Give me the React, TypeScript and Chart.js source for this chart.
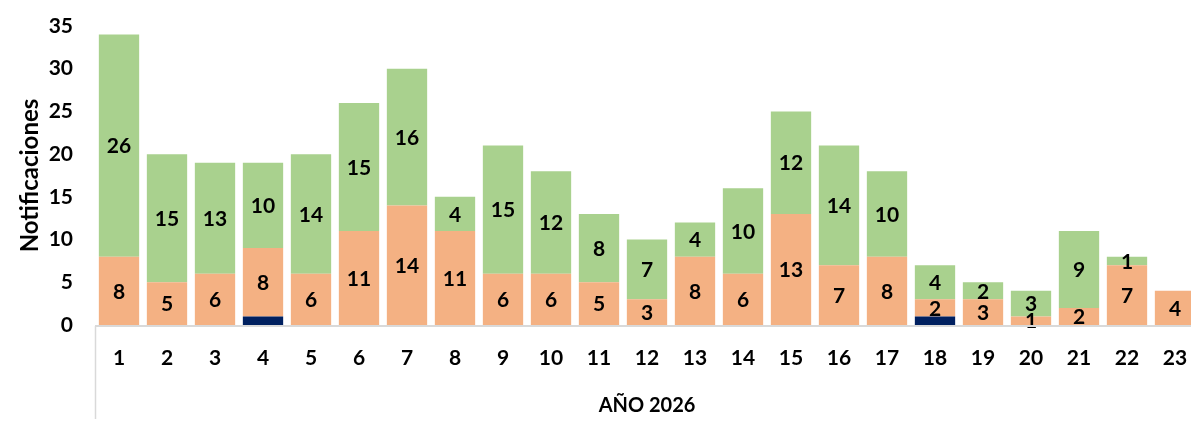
import React, { useEffect, useRef } from "react";
import { Chart, registerables } from "chart.js";

Chart.register(...registerables);

const categories = ["1","2","3","4","5","6","7","8","9","10","11","12","13","14","15","16","17","18","19","20","21","22","23"];
const navyValues = [0,0,0,1,0,0,0,0,0,0,0,0,0,0,0,0,0,1,0,0,0,0,0];
const orangeValues = [8,5,6,8,6,11,14,11,6,6,5,3,8,6,13,7,8,2,3,1,2,7,4];
const greenValues = [26,15,13,10,14,15,16,4,15,12,8,7,4,10,12,14,10,4,2,3,9,1,0];
const yTicks = [0,5,10,15,20,25,30,35];

const FONT = "Lato, 'Open Sans', sans-serif";

const labelPlugin = {
  id: "segLabels",
  afterDatasetsDraw(chart: any) {
    const ctx = chart.ctx;
    ctx.save();
    ctx.font = `bold 21px ${FONT}`;
    ctx.fillStyle = "#000";
    ctx.textAlign = "center";
    ctx.textBaseline = "middle";
    [1, 2].forEach((di) => {
      const meta = chart.getDatasetMeta(di);
      const data = chart.data.datasets[di].data as number[];
      meta.data.forEach((el: any, i: number) => {
        const v = data[i];
        if (!v) return;
        const y = (el.y + el.base) / 2;
        ctx.fillText(String(v), el.x, y + 1);
      });
    });
    ctx.restore();
  },
};

const axisLinePlugin = {
  id: "axisLines",
  afterDraw(chart: any) {
    const ctx = chart.ctx;
    const a = chart.chartArea;
    ctx.save();
    ctx.strokeStyle = "#D9D9D9";
    ctx.lineWidth = 2;
    ctx.beginPath();
    ctx.moveTo(a.left, a.bottom + 1);
    ctx.lineTo(chart.width, a.bottom + 1);
    ctx.stroke();
    ctx.lineWidth = 1.5;
    ctx.beginPath();
    ctx.moveTo(a.left + 0.5, a.bottom + 1);
    ctx.lineTo(a.left + 0.5, a.bottom + 94);
    ctx.stroke();
    ctx.restore();
  },
};

export default function App() {
  const ref = useRef<HTMLCanvasElement>(null);
  useEffect(() => {
    document.body.style.margin = "0";
    const chart = new Chart(ref.current!, {
      type: "bar",
      data: {
        labels: categories,
        datasets: [
          { label: "A", data: navyValues, backgroundColor: "#002060", stack: "s" },
          { label: "B", data: orangeValues, backgroundColor: "#F4B183", stack: "s" },
          { label: "C", data: greenValues, backgroundColor: "#A9D18E", stack: "s" },
        ],
      },
      options: {
        animation: false,
        responsive: true,
        maintainAspectRatio: false,
        layout: { padding: { top: 26, left: 0, right: 0, bottom: 0 } },
        plugins: { legend: { display: false }, tooltip: { enabled: false } },
        datasets: { bar: { barPercentage: 0.84, categoryPercentage: 1 } },
        scales: {
          x: {
            stacked: true,
            grid: { display: false, drawTicks: false },
            border: { display: false },
            ticks: { color: "#000", font: { family: FONT, size: 21, weight: "bold" }, padding: 21 },
            title: {
              display: true,
              text: "AÑO 2026",
              color: "#000",
              font: { family: FONT, size: 20, weight: "bold" },
              padding: { top: 0, bottom: 8 },
            },
            afterFit: (s: any) => { s.height = 101; s.paddingLeft = 0; s.paddingRight = 0; },
          },
          y: {
            stacked: true,
            min: 0,
            max: 35,
            grid: { display: false, drawTicks: false },
            border: { display: false },
            afterBuildTicks: (s: any) => { s.ticks = yTicks.map((v) => ({ value: v })); },
            ticks: { color: "#000", font: { family: FONT, size: 21, weight: "bold" }, padding: 22 },
            title: {
              display: true,
              text: "Notificaciones",
              color: "#000",
              font: { family: FONT, size: 24, weight: "bold" },
              padding: { top: 16, bottom: 0 },
            },
            afterFit: (s: any) => { s.width = 95; s.paddingTop = 0; s.paddingBottom = 0; },
          },
        },
      },
      plugins: [labelPlugin, axisLinePlugin],
    });
    return () => chart.destroy();
  }, []);
  return (
    <div style={{ width: 1191, height: 426, overflow: "hidden", position: "relative" }}>
      <div style={{ width: 1199, height: 426, position: "relative" }}>
        <canvas ref={ref} />
      </div>
    </div>
  );
}
